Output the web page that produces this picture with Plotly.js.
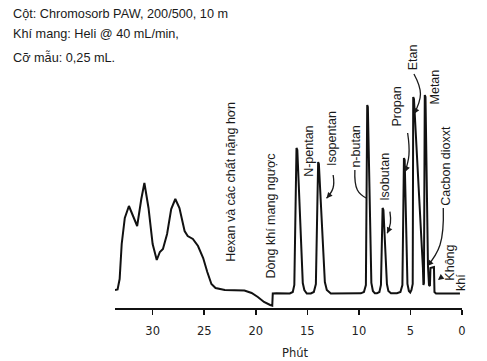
<!DOCTYPE html>
<html>
<head>
<meta charset="utf-8">
<script src="https://cdn.plot.ly/plotly-3.0.1.min.js"></script>
<style>html,body{margin:0;padding:0;background:#fff;}#chart{width:487px;height:361px;}</style>
</head>
<body>
<div id="chart"></div>
<script>
// Traced chromatogram: retention time (min) and detector signal (arbitrary units)
const minutes = [33.65,33.40,33.20,33.00,32.70,32.30,31.90,31.50,31.10,30.80,30.40,30.00,29.60,29.30,29.00,28.60,28.20,27.80,27.40,26.90,26.60,26.10,25.60,25.10,24.70,24.30,23.90,23.00,21.10,20.40,19.80,19.20,18.60,18.40,18.35,18.00,
  16.70,16.41,16.26,16.05,15.97,15.44,15.29,15.05,
  14.66,14.37,14.17,13.95,13.88,13.30,13.11,12.72,
  9.81,9.51,9.32,9.19,9.13,8.79,8.64,8.45,
  8.25,8.01,7.86,7.70,7.62,7.28,7.14,6.89,
  6.31,5.97,5.78,5.63,5.56,5.29,5.15,5.02,
  4.90,4.78,4.73,4.66,3.79,3.74,
  3.69,3.61,3.54,3.30,3.20,3.11,3.06,2.72,2.67,2.52,0.20];
const signal = [4,4.5,15,50,76,88,78,68,95,111,86,50,34,42,45,60,85,95,86,63,58,55,48,36,22,10,6,4,3.5,1,-3,-8,-11,-11.7,0.5,0.7,
  0.5,2,9,146,144,11,4,0.5,
  0.5,2,10,132,130,12,4,0.5,
  0.7,2,9,189,187,11,3,0.7,
  0.7,2,9,86,84,10,3,0.7,
  0.7,2,9,136,134,10,3,1.5,
  4,10,197,195,26,9,
  11,199,197,28,9,8,26,27,2,0.5,0.5];

// Peak / region labels and their positions (min, signal)
const labels   = ["Hexan và các chất nặng hơn","Dòng khí mang ngược","N-pentan","Isopentan","n-butan","Isobutan","Propan","Etan","Metan","Cacbon dioxxt","Không","khí"];
const labelMin = [22.43,18.48,14.85,12.65,10.29,7.48,6.34,4.73,2.62,1.58,1.20,0.10];
const labelSig = [112,78,143,155.5,147.3,117,187,237,207.5,128,31,12];

const tickVals = [0,5,10,15,20,25,30];
const infoLines = ["Cột: Chromosorb PAW, 200/500, 10 m","Khí mang: Heli @ 40 mL/min,","Cỡ mẫu: 0,25 mL."];

const px2m = x => (462 - x) / 10.3;
const py2s = y => 294 - y;

const annotations = [];
labels.forEach((t,i)=>{
  annotations.push({x:labelMin[i], y:labelSig[i], xref:'x', yref:'y', text:t, showarrow:false,
    textangle:-90, xanchor:'center', yanchor:'middle',
    font:{family:'Liberation Sans, Arial, sans-serif', size:12.5, color:'#1a1a1a'}});
});
const infoY = [0.9703,0.9043,0.8267];
infoLines.forEach((t,i)=>{
  annotations.push({x:-0.2997, y:infoY[i], xref:'paper', yref:'paper', text:t, showarrow:false,
    xanchor:'left', yanchor:'middle',
    font:{family:'Liberation Sans, Arial, sans-serif', size:12.7, color:'#1a1a1a'}});
});
annotations.push({x:0.519, y:-0.1485, xref:'paper', yref:'paper', text:'Phút', showarrow:false,
  xanchor:'center', yanchor:'middle', font:{family:'DejaVu Sans, sans-serif', size:11.5, color:'#222'}});

// leader curves: start, bend, end (pixel positions of the label leaders)
const curves = [
  [[333.3,175],[333.2,188],[326.7,198.3]],
  [[355,170],[357.5,190],[366.7,198.3]],
  [[390,211.7],[390.5,223],[387.3,233.3]],
  [[407.7,133],[409,155],[405,172]],
  [[414,74],[420.5,94],[414,114]],
  [[443.3,208],[440,245],[427.5,266]]
];
const leaderTraces = curves.map(c=>({
  x:c.map(p=>px2m(p[0])), y:c.map(p=>py2s(p[1])), type:'scatter', mode:'lines',
  line:{color:'#1a1a1a', width:1.3, shape:'spline', smoothing:1.2}, hoverinfo:'skip'
}));
const heads = [[326.7,198.3,4.6,-5.3],[387.3,233.3,2.9,-6.4],[405,172,2.7,-6.5],[414,114,3.3,-6.2],[427.5,266,4.7,-5.2],[438,280,5,-4]];
heads.forEach(h=>{
  annotations.push({x:px2m(h[0]), y:py2s(h[1]), xref:'x', yref:'y', ax:h[2], ay:h[3], text:'',
    showarrow:true, arrowhead:2, arrowsize:0.9, arrowwidth:1.3, arrowcolor:'#1a1a1a'});
});

const trace = {x:minutes, y:signal, type:'scatter', mode:'lines',
  line:{color:'#111', width:2}, hoverinfo:'skip'};

const layout = {
  width:487, height:361,
  margin:{l:115, r:25, t:5, b:53},
  paper_bgcolor:'#fff', plot_bgcolor:'#fff',
  showlegend:false,
  xaxis:{range:[33.65,0], tickvals:tickVals, ticktext:tickVals.map(String),
    ticks:'outside', ticklen:5, tickwidth:1.5, tickcolor:'#111',
    showline:true, linewidth:1.5, linecolor:'#111', showgrid:false, zeroline:false,
    ticklabelstandoff:7,
    tickfont:{family:'DejaVu Sans, sans-serif', size:11.5, color:'#222'}},
  yaxis:{visible:false, range:[-14,289], showgrid:false, zeroline:false},
  annotations:annotations
};
Plotly.newPlot('chart',[trace].concat(leaderTraces),layout,{displayModeBar:false, staticPlot:true});
</script>
</body>
</html>
